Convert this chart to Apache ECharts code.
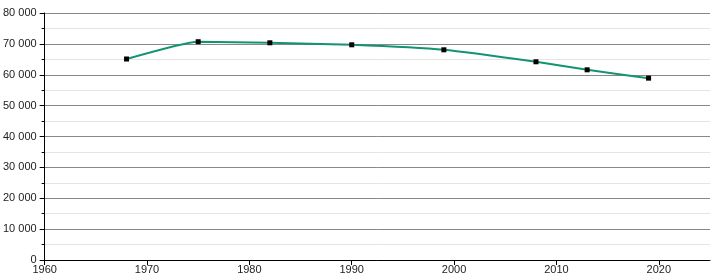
<!DOCTYPE html>
<html><head><meta charset="utf-8">
<script src="https://cdn.jsdelivr.net/npm/echarts@6/dist/echarts.min.js"></script>
<style>html,body{margin:0;padding:0;background:#fff}#c{width:720px;height:280px}</style>
</head><body><div id="c"></div>
<script>
var years = [1968, 1975, 1982, 1990, 1999, 2008, 2013, 2019];
var population = [65100, 70700, 70350, 69700, 68080, 64200, 61600, 58900];
var xTicks = [1960, 1970, 1980, 1990, 2000, 2010, 2020];

var chart = echarts.init(document.getElementById('c'), null, {renderer: 'canvas'});
function fmt(v){ return String(v).replace(/\B(?=(\d{3})+(?!\d))/g, ' '); }
chart.setOption({
  animation: false,
  grid: {left: 42, right: 10, top: 13, bottom: 20, containLabel: false},
  xAxis: {
    type: 'value', min: 1960, max: 2025, interval: 10,
    axisLine: {show: true, onZero: false, lineStyle: {color: '#000', width: 1}},
    axisTick: {show: true, length: 5, lineStyle: {color: '#000'}, customValues: xTicks},
    axisLabel: {color: '#222', fontSize: 11, fontFamily: 'Liberation Sans, Arial, sans-serif', margin: 4, customValues: xTicks, formatter: function(v){ return String(v); }},
    splitLine: {show: false}
  },
  yAxis: {
    type: 'value', min: 0, max: 80000, interval: 10000,
    axisLine: {show: true, lineStyle: {color: '#000', width: 1}},
    axisTick: {show: true, length: 5, lineStyle: {color: '#000'}},
    minorTick: {show: true, splitNumber: 2, length: 3, lineStyle: {color: '#000'}},
    axisLabel: {color: '#222', fontSize: 11, fontFamily: 'Liberation Sans, Arial, sans-serif', margin: 8, formatter: fmt},
    splitLine: {show: true, lineStyle: {color: '#888', width: 1}},
    minorSplitLine: {show: true, lineStyle: {color: '#e4e4e4', width: 1}}
  },
  series: [{
    type: 'line',
    data: years.map(function(y, i){ return [y, population[i]]; }),
    smooth: 0.15,
    symbol: 'rect', symbolSize: 5,
    itemStyle: {color: '#000'},
    lineStyle: {color: '#119471', width: 2}
  }]
});
</script></body></html>
